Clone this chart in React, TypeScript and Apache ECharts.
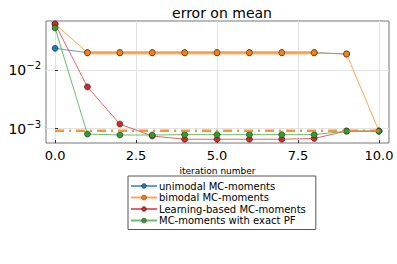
import React, { useEffect, useRef } from "react";
import * as echarts from "echarts";

const iterations = [0, 1, 2, 3, 4, 5, 6, 7, 8, 9, 10];
const unimodal = [0.0238, 0.02, 0.02, 0.02, 0.02, 0.02, 0.02, 0.02, 0.02, 0.019];
const bimodal = [0.062, 0.02, 0.02, 0.02, 0.02, 0.02, 0.02, 0.02, 0.02, 0.019, 0.00091];
const learning = [0.062, 0.0052, 0.0012, 0.00075, 0.00066, 0.00066, 0.00066, 0.00066, 0.00068, 0.00091, 0.00091];
const exactPF = [0.053, 0.00081, 0.00078, 0.00078, 0.00079, 0.00079, 0.00079, 0.00079, 0.00079, 0.00091, 0.00091];
const refLevel = 0.00092;
const refX = [0, 10];
const plateauLevel = 0.02;
const plateauX = [1, 8];
const xTicks = [0, 2.5, 5, 7.5, 10];
const yTicks = [-3, -2];
const seriesNames = [
  "unimodal MC-moments",
  "bimodal MC-moments",
  "Learning-based MC-moments",
  "MC-moments with exact PF",
];
const colors = ["#1f77b4", "#ff7f0e", "#d62728", "#2ca02c"];

const FONT = "DejaVu Sans";

export default function App() {
  const ref = useRef<HTMLDivElement>(null);
  useEffect(() => {
    document.body.style.margin = "0";
    if (!ref.current) return;
    const chart = echarts.init(ref.current, null, { renderer: "svg" });
    const toPts = (vals: number[]) => vals.map((v, i) => [iterations[i], Math.log10(v)]);
    const datasets = [unimodal, bimodal, learning, exactPF];
    const lineSeries = datasets.map((vals, i) => ({
      name: seriesNames[i],
      type: "line",
      data: toPts(vals),
      symbol: "circle",
      symbolSize: 6,
      showSymbol: true,
      lineStyle: { color: colors[i], width: 1, opacity: 0.7 },
      itemStyle: { color: colors[i], borderColor: "#222", borderWidth: 0.6 },
      z: 2 + i,
    }));
    const option: any = {
      animation: false,
      title: {
        text: "error on mean",
        left: 217,
        textAlign: "center",
        top: 1,
        textStyle: { fontFamily: FONT, fontSize: 14, fontWeight: "normal", color: "#000" },
      },
      grid: {
        left: 46,
        right: 8,
        top: 21,
        bottom: 121,
        show: true,
        borderColor: "#777",
        borderWidth: 1,
      },
      xAxis: {
        type: "value",
        min: -0.28,
        max: 10.31,
        name: "iteration number",
        nameLocation: "middle",
        nameGap: 23,
        nameTextStyle: { fontFamily: FONT, fontSize: 9, color: "#000" },
        axisLine: { show: false },
        axisTick: { show: true, inside: true, length: 3, customValues: xTicks, lineStyle: { color: "#333" } },
        axisLabel: {
          customValues: xTicks,
          fontFamily: FONT,
          fontSize: 13,
          color: "#000",
          margin: 6,
          formatter: (v: number) => v.toFixed(1),
        },
        splitLine: { show: true, lineStyle: { color: "#e3e3e3", width: 1 } },
      },
      yAxis: {
        type: "value",
        min: -3.245,
        max: -1.156,
        axisLine: { show: false },
        axisTick: { show: true, inside: true, length: 3, customValues: yTicks, lineStyle: { color: "#333" } },
        axisLabel: {
          customValues: yTicks,
          margin: 5,
          color: "#000",
          formatter: (v: number) => `{b|10}{s|−${Math.round(-v)}}`,
          rich: {
            b: { fontFamily: FONT, fontSize: 14, color: "#000" },
            s: { fontFamily: FONT, fontSize: 10, color: "#000", padding: [0, 0, 9, 0] },
          },
        },
        splitLine: { show: true, lineStyle: { color: "#e3e3e3", width: 1 } },
      },
      legend: {
        data: seriesNames,
        orient: "vertical",
        left: 128,
        top: 176,
        width: 187,
        padding: [5, 10, 4, 2],
        borderColor: "#555",
        borderWidth: 1,
        itemWidth: 26,
        itemHeight: 6,
        itemGap: 1.5,
        itemStyle: { borderWidth: 0.5, borderColor: "#222" },
        textStyle: { fontFamily: FONT, fontSize: 10, lineHeight: 10, color: "#000", padding: [0, 0, 0, -3] },
      },
      series: [
        ...lineSeries,
        {
          name: "plateau",
          type: "line",
          data: plateauX.map((x) => [x, Math.log10(plateauLevel)]),
          symbol: "none",
          lineStyle: { color: "#f0bb8e", width: 3.5, opacity: 1 },
          z: 2.5,
        },
        {
          name: "ref",
          type: "line",
          data: refX.map((x) => [x, Math.log10(refLevel)]),
          symbol: "none",
          lineStyle: { color: "#ff7f0e", width: 2.5, type: [9, 5, 2, 5], opacity: 0.85 },
          z: 10,
        },
      ],
    };
    chart.setOption(option);
    return () => chart.dispose();
  }, []);
  return <div ref={ref} style={{ width: 397, height: 264 }} />;
}
